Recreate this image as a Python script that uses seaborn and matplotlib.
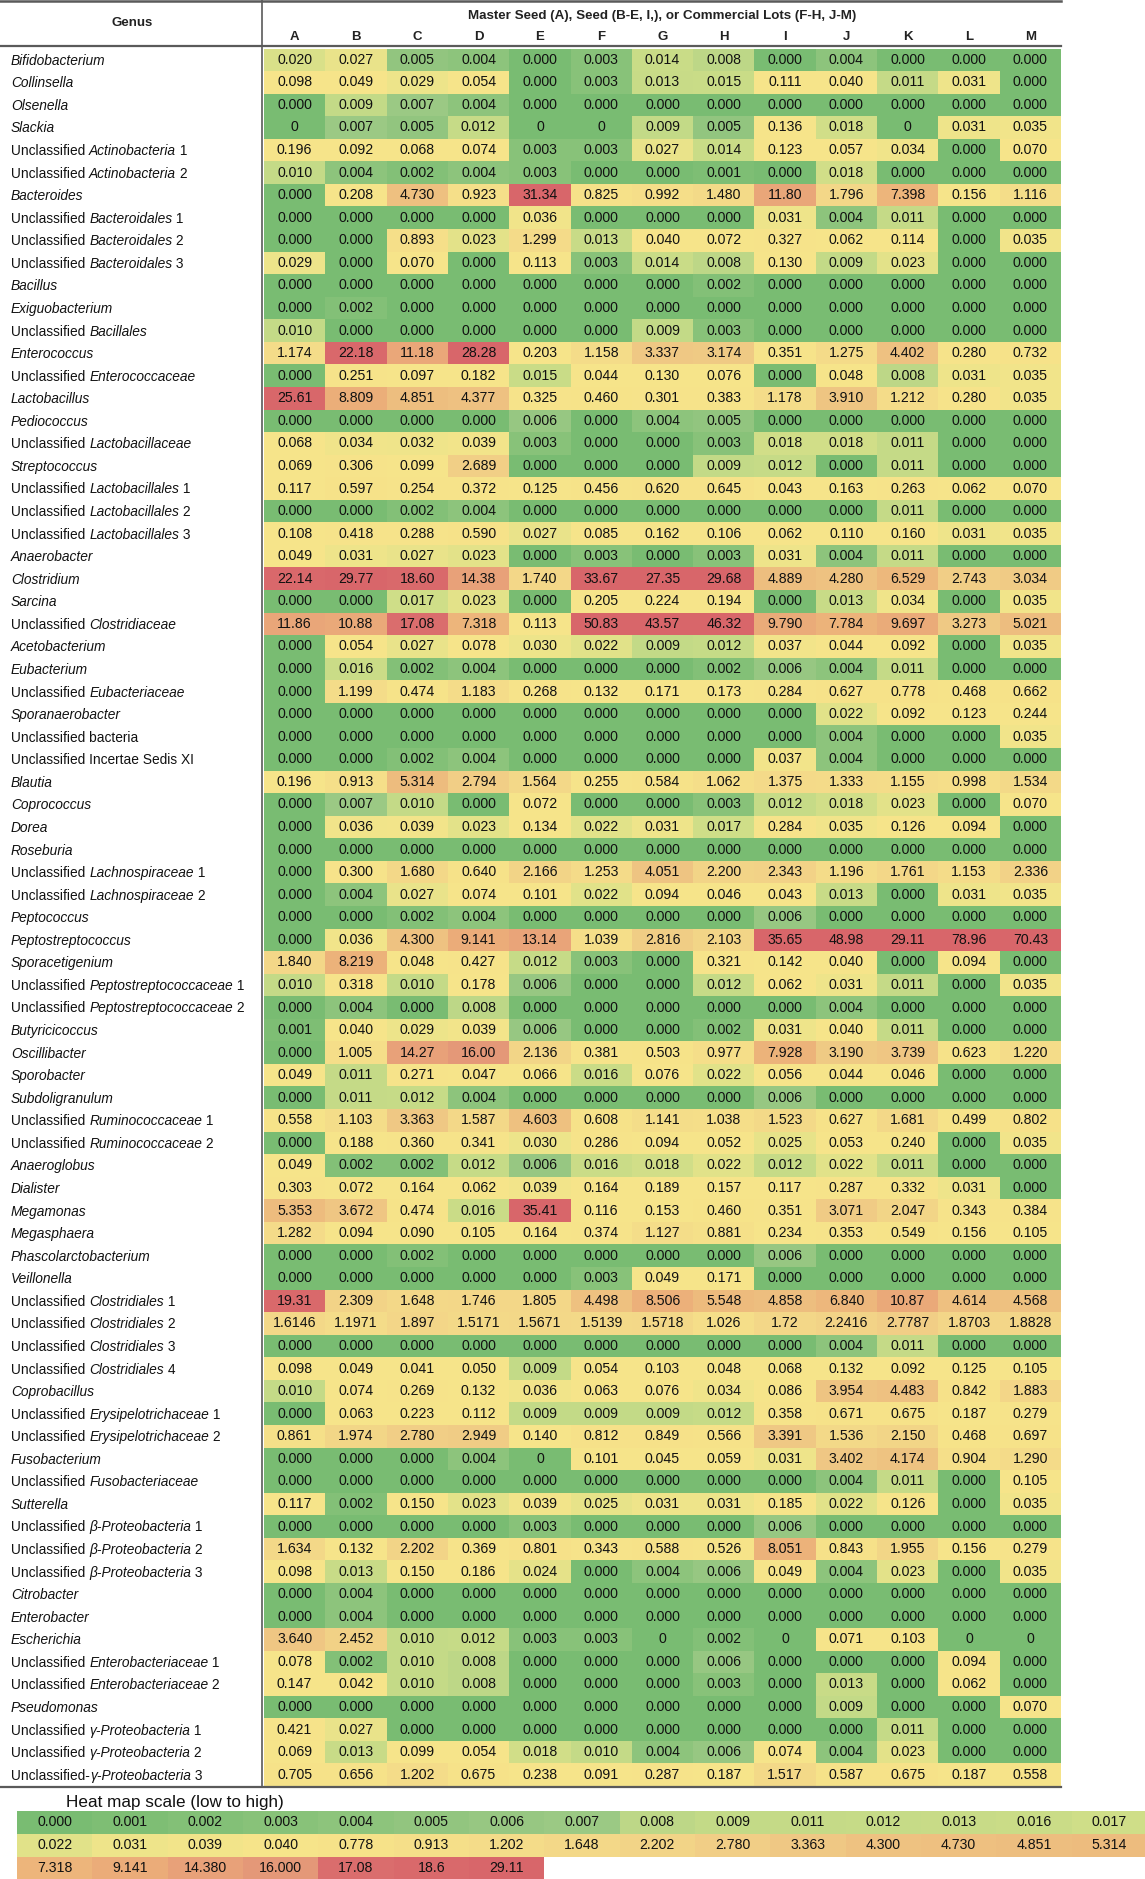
import numpy as np
import pandas as pd
import matplotlib
matplotlib.use("Agg")
import matplotlib.pyplot as plt
import matplotlib.transforms as mtransforms
from matplotlib.colors import LinearSegmentedColormap
from matplotlib.lines import Line2D
import seaborn as sns

# ---------------- data ----------------
lots = ["A", "B", "C", "D", "E", "F", "G", "H", "I", "J", "K", "L", "M"]

genera = [
    "*Bifidobacterium*", "*Collinsella*", "*Olsenella*", "*Slackia*",
    "Unclassified *Actinobacteria* 1", "Unclassified *Actinobacteria* 2",
    "*Bacteroides*", "Unclassified *Bacteroidales* 1", "Unclassified *Bacteroidales* 2",
    "Unclassified *Bacteroidales* 3", "*Bacillus*", "*Exiguobacterium*",
    "Unclassified *Bacillales*", "*Enterococcus*", "Unclassified *Enterococcaceae*",
    "*Lactobacillus*", "*Pediococcus*", "Unclassified *Lactobacillaceae*", "*Streptococcus*",
    "Unclassified *Lactobacillales* 1", "Unclassified *Lactobacillales* 2",
    "Unclassified *Lactobacillales* 3", "*Anaerobacter*", "*Clostridium*", "*Sarcina*",
    "Unclassified *Clostridiaceae*", "*Acetobacterium*", "*Eubacterium*",
    "Unclassified *Eubacteriaceae*", "*Sporanaerobacter*", "Unclassified bacteria",
    "Unclassified Incertae Sedis XI", "*Blautia*", "*Coprococcus*", "*Dorea*", "*Roseburia*",
    "Unclassified *Lachnospiraceae* 1", "Unclassified *Lachnospiraceae* 2", "*Peptococcus*",
    "*Peptostreptococcus*", "*Sporacetigenium*", "Unclassified *Peptostreptococcaceae* 1",
    "Unclassified *Peptostreptococcaceae* 2", "*Butyricicoccus*", "*Oscillibacter*",
    "*Sporobacter*", "*Subdoligranulum*", "Unclassified *Ruminococcaceae* 1",
    "Unclassified *Ruminococcaceae* 2", "*Anaeroglobus*", "*Dialister*", "*Megamonas*",
    "*Megasphaera*", "*Phascolarctobacterium*", "*Veillonella*",
    "Unclassified *Clostridiales* 1", "Unclassified *Clostridiales* 2",
    "Unclassified *Clostridiales* 3", "Unclassified *Clostridiales* 4", "*Coprobacillus*",
    "Unclassified *Erysipelotrichaceae* 1", "Unclassified *Erysipelotrichaceae* 2",
    "*Fusobacterium*", "Unclassified *Fusobacteriaceae*", "*Sutterella*",
    "Unclassified *β-Proteobacteria* 1", "Unclassified *β-Proteobacteria* 2",
    "Unclassified *β-Proteobacteria* 3", "*Citrobacter*", "*Enterobacter*", "*Escherichia*",
    "Unclassified *Enterobacteriaceae* 1", "Unclassified *Enterobacteriaceae* 2",
    "*Pseudomonas*", "Unclassified *γ-Proteobacteria* 1", "Unclassified *γ-Proteobacteria* 2",
    "Unclassified-*γ-Proteobacteria* 3",
]

col_A = """0.020 0.098 0.000 0 0.196 0.010 0.000 0.000 0.000 0.029
0.000 0.000 0.010 1.174 0.000 25.61 0.000 0.068 0.069 0.117
0.000 0.108 0.049 22.14 0.000 11.86 0.000 0.000 0.000 0.000
0.000 0.000 0.196 0.000 0.000 0.000 0.000 0.000 0.000 0.000
1.840 0.010 0.000 0.001 0.000 0.049 0.000 0.558 0.000 0.049
0.303 5.353 1.282 0.000 0.000 19.31 1.6146 0.000 0.098 0.010
0.000 0.861 0.000 0.000 0.117 0.000 1.634 0.098 0.000 0.000
3.640 0.078 0.147 0.000 0.421 0.069 0.705""".split()

col_B = """0.027 0.049 0.009 0.007 0.092 0.004 0.208 0.000 0.000 0.000
0.000 0.002 0.000 22.18 0.251 8.809 0.000 0.034 0.306 0.597
0.000 0.418 0.031 29.77 0.000 10.88 0.054 0.016 1.199 0.000
0.000 0.000 0.913 0.007 0.036 0.000 0.300 0.004 0.000 0.036
8.219 0.318 0.004 0.040 1.005 0.011 0.011 1.103 0.188 0.002
0.072 3.672 0.094 0.000 0.000 2.309 1.1971 0.000 0.049 0.074
0.063 1.974 0.000 0.000 0.002 0.000 0.132 0.013 0.004 0.004
2.452 0.002 0.042 0.000 0.027 0.013 0.656""".split()

col_C = """0.005 0.029 0.007 0.005 0.068 0.002 4.730 0.000 0.893 0.070
0.000 0.000 0.000 11.18 0.097 4.851 0.000 0.032 0.099 0.254
0.002 0.288 0.027 18.60 0.017 17.08 0.027 0.002 0.474 0.000
0.000 0.002 5.314 0.010 0.039 0.000 1.680 0.027 0.002 4.300
0.048 0.010 0.000 0.029 14.27 0.271 0.012 3.363 0.360 0.002
0.164 0.474 0.090 0.002 0.000 1.648 1.897 0.000 0.041 0.269
0.223 2.780 0.000 0.000 0.150 0.000 2.202 0.150 0.000 0.000
0.010 0.010 0.010 0.000 0.000 0.099 1.202""".split()

col_D = """0.004 0.054 0.004 0.012 0.074 0.004 0.923 0.000 0.023 0.000
0.000 0.000 0.000 28.28 0.182 4.377 0.000 0.039 2.689 0.372
0.004 0.590 0.023 14.38 0.023 7.318 0.078 0.004 1.183 0.000
0.000 0.004 2.794 0.000 0.023 0.000 0.640 0.074 0.004 9.141
0.427 0.178 0.008 0.039 16.00 0.047 0.004 1.587 0.341 0.012
0.062 0.016 0.105 0.000 0.000 1.746 1.5171 0.000 0.050 0.132
0.112 2.949 0.004 0.000 0.023 0.000 0.369 0.186 0.000 0.000
0.012 0.008 0.008 0.000 0.000 0.054 0.675""".split()

col_E = """0.000 0.000 0.000 0 0.003 0.003 31.34 0.036 1.299 0.113
0.000 0.000 0.000 0.203 0.015 0.325 0.006 0.003 0.000 0.125
0.000 0.027 0.000 1.740 0.000 0.113 0.030 0.000 0.268 0.000
0.000 0.000 1.564 0.072 0.134 0.000 2.166 0.101 0.000 13.14
0.012 0.006 0.000 0.006 2.136 0.066 0.000 4.603 0.030 0.006
0.039 35.41 0.164 0.000 0.000 1.805 1.5671 0.000 0.009 0.036
0.009 0.140 0 0.000 0.039 0.003 0.801 0.024 0.000 0.000
0.003 0.000 0.000 0.000 0.000 0.018 0.238""".split()

col_F = """0.003 0.003 0.000 0 0.003 0.000 0.825 0.000 0.013 0.003
0.000 0.000 0.000 1.158 0.044 0.460 0.000 0.000 0.000 0.456
0.000 0.085 0.003 33.67 0.205 50.83 0.022 0.000 0.132 0.000
0.000 0.000 0.255 0.000 0.022 0.000 1.253 0.022 0.000 1.039
0.003 0.000 0.000 0.000 0.381 0.016 0.000 0.608 0.286 0.016
0.164 0.116 0.374 0.000 0.003 4.498 1.5139 0.000 0.054 0.063
0.009 0.812 0.101 0.000 0.025 0.000 0.343 0.000 0.000 0.000
0.003 0.000 0.000 0.000 0.000 0.010 0.091""".split()

col_G = """0.014 0.013 0.000 0.009 0.027 0.000 0.992 0.000 0.040 0.014
0.000 0.000 0.009 3.337 0.130 0.301 0.004 0.000 0.000 0.620
0.000 0.162 0.000 27.35 0.224 43.57 0.009 0.000 0.171 0.000
0.000 0.000 0.584 0.000 0.031 0.000 4.051 0.094 0.000 2.816
0.000 0.000 0.000 0.000 0.503 0.076 0.000 1.141 0.094 0.018
0.189 0.153 1.127 0.000 0.049 8.506 1.5718 0.000 0.103 0.076
0.009 0.849 0.045 0.000 0.031 0.000 0.588 0.004 0.000 0.000
0 0.000 0.000 0.000 0.000 0.004 0.287""".split()

col_H = """0.008 0.015 0.000 0.005 0.014 0.001 1.480 0.000 0.072 0.008
0.002 0.000 0.003 3.174 0.076 0.383 0.005 0.003 0.009 0.645
0.000 0.106 0.003 29.68 0.194 46.32 0.012 0.002 0.173 0.000
0.000 0.000 1.062 0.003 0.017 0.000 2.200 0.046 0.000 2.103
0.321 0.012 0.000 0.002 0.977 0.022 0.000 1.038 0.052 0.022
0.157 0.460 0.881 0.000 0.171 5.548 1.026 0.000 0.048 0.034
0.012 0.566 0.059 0.000 0.031 0.000 0.526 0.006 0.000 0.000
0.002 0.006 0.003 0.000 0.000 0.006 0.187""".split()

col_I = """0.000 0.111 0.000 0.136 0.123 0.000 11.80 0.031 0.327 0.130
0.000 0.000 0.000 0.351 0.000 1.178 0.000 0.018 0.012 0.043
0.000 0.062 0.031 4.889 0.000 9.790 0.037 0.006 0.284 0.000
0.000 0.037 1.375 0.012 0.284 0.000 2.343 0.043 0.006 35.65
0.142 0.062 0.000 0.031 7.928 0.056 0.006 1.523 0.025 0.012
0.117 0.351 0.234 0.006 0.000 4.858 1.72 0.000 0.068 0.086
0.358 3.391 0.031 0.000 0.185 0.006 8.051 0.049 0.000 0.000
0 0.000 0.000 0.000 0.000 0.074 1.517""".split()

col_J = """0.004 0.040 0.000 0.018 0.057 0.018 1.796 0.004 0.062 0.009
0.000 0.000 0.000 1.275 0.048 3.910 0.000 0.018 0.000 0.163
0.000 0.110 0.004 4.280 0.013 7.784 0.044 0.004 0.627 0.022
0.004 0.004 1.333 0.018 0.035 0.000 1.196 0.013 0.000 48.98
0.040 0.031 0.004 0.040 3.190 0.044 0.000 0.627 0.053 0.022
0.287 3.071 0.353 0.000 0.000 6.840 2.2416 0.004 0.132 3.954
0.671 1.536 3.402 0.004 0.022 0.000 0.843 0.004 0.000 0.000
0.071 0.000 0.013 0.009 0.000 0.004 0.587""".split()

col_K = """0.000 0.011 0.000 0 0.034 0.000 7.398 0.011 0.114 0.023
0.000 0.000 0.000 4.402 0.008 1.212 0.000 0.011 0.011 0.263
0.011 0.160 0.011 6.529 0.034 9.697 0.092 0.011 0.778 0.092
0.000 0.000 1.155 0.023 0.126 0.000 1.761 0.000 0.000 29.11
0.000 0.011 0.000 0.011 3.739 0.046 0.000 1.681 0.240 0.011
0.332 2.047 0.549 0.000 0.000 10.87 2.7787 0.011 0.092 4.483
0.675 2.150 4.174 0.011 0.126 0.000 1.955 0.023 0.000 0.000
0.103 0.000 0.000 0.000 0.011 0.023 0.675""".split()

col_L = """0.000 0.031 0.000 0.031 0.000 0.000 0.156 0.000 0.000 0.000
0.000 0.000 0.000 0.280 0.031 0.280 0.000 0.000 0.000 0.062
0.000 0.031 0.000 2.743 0.000 3.273 0.000 0.000 0.468 0.123
0.000 0.000 0.998 0.000 0.094 0.000 1.153 0.031 0.000 78.96
0.094 0.000 0.000 0.000 0.623 0.000 0.000 0.499 0.000 0.000
0.031 0.343 0.156 0.000 0.000 4.614 1.8703 0.000 0.125 0.842
0.187 0.468 0.904 0.000 0.000 0.000 0.156 0.000 0.000 0.000
0 0.094 0.062 0.000 0.000 0.000 0.187""".split()

col_M = """0.000 0.000 0.000 0.035 0.070 0.000 1.116 0.000 0.035 0.000
0.000 0.000 0.000 0.732 0.035 0.035 0.000 0.000 0.000 0.070
0.000 0.035 0.000 3.034 0.035 5.021 0.035 0.000 0.662 0.244
0.035 0.000 1.534 0.070 0.000 0.000 2.336 0.035 0.000 70.43
0.000 0.035 0.000 0.000 1.220 0.000 0.000 0.802 0.035 0.000
0.000 0.384 0.105 0.000 0.000 4.568 1.8828 0.000 0.105 1.883
0.279 0.697 1.290 0.105 0.035 0.000 0.279 0.035 0.000 0.000
0 0.000 0.000 0.070 0.000 0.000 0.558""".split()

# heat-map scale (legend) values, low to high
scale_labels = ["0.000", "0.001", "0.002", "0.003", "0.004", "0.005", "0.006", "0.007",
                "0.008", "0.009", "0.011", "0.012", "0.013", "0.016", "0.017",
                "0.022", "0.031", "0.039", "0.040", "0.778", "0.913", "1.202", "1.648",
                "2.202", "2.780", "3.363", "4.300", "4.730", "4.851", "5.314",
                "7.318", "9.141", "14.380", "16.000", "17.08", "18.6", "29.11"]

# ---------------- build tables ----------------
columns = [col_A, col_B, col_C, col_D, col_E, col_F, col_G, col_H, col_I, col_J, col_K, col_L, col_M]
for c in columns:
    assert len(c) == len(genera), len(c)
plain_names = [g.replace("*", "") for g in genera]
text_df = pd.DataFrame({l: c for l, c in zip(lots, columns)}, index=plain_names)
value_df = text_df.astype(float)

scale_vals = np.array([float(s) for s in scale_labels])
n_scale = len(scale_vals)
scale_pos = np.arange(n_scale) / (n_scale - 1)
level_df = value_df.apply(lambda col: np.interp(col.values, scale_vals, scale_pos))

# colour scale: green -> yellow -> red following the legend steps
nodes = [(0, "#79BC72"), (3, "#88C279"), (6, "#97C782"), (7, "#9BC984"), (8, "#C1D987"),
         (13, "#CADC87"), (14, "#CFDE88"), (15, "#E2E289"), (16, "#EFE48A"),
         (18, "#F6E48A"), (19, "#F6E289"), (21, "#F4DC89"), (23, "#F2D487"),
         (25, "#EFC884"), (26, "#EEC281"), (29, "#EDBC7E"), (30, "#EDB67B"),
         (31, "#EBAD79"), (32, "#E8A179"), (33, "#E49A78"), (34, "#DA6D6D"), (36, "#D8666A")]
heat_cmap = LinearSegmentedColormap.from_list(
    "heat", [(i / (n_scale - 1), c) for i, c in nodes])

# ---------------- figure ----------------
FONT = "Liberation Sans"
plt.rcParams["font.family"] = [FONT, "DejaVu Sans"]
W, H = 1145, 1879
fig = plt.figure(figsize=(W / 100, H / 100), dpi=100)
fig.patch.set_facecolor("white")


def fx(px):
    return px / W


def fy(py):
    return 1 - py / H


tab_left, tab_right = 264, 1061
tab_top, tab_bot = 48.5, 1786
ax = fig.add_axes([fx(tab_left), fy(tab_bot), (tab_right - tab_left) / W, (tab_bot - tab_top) / H])
sns.heatmap(level_df, ax=ax, cmap=heat_cmap, vmin=0, vmax=1, cbar=False,
            annot=text_df.values, fmt="", linewidths=0,
            annot_kws=dict(fontsize=10.2, color="#111111", family=FONT),
            xticklabels=False, yticklabels=False)
ax.set_xlabel("")
ax.set_ylabel("")
for s in ax.spines.values():
    s.set_visible(False)

# genus labels with partial italics
FS = 9.9
renderer = fig.canvas.get_renderer()


def advance(s, style):
    t1 = fig.text(0, 0, s + "I", fontsize=FS, style=style, family=FONT)
    t2 = fig.text(0, 0, "I", fontsize=FS, style=style, family=FONT)
    w = t1.get_window_extent(renderer).width - t2.get_window_extent(renderer).width
    t1.remove()
    t2.remove()
    return w


trans = mtransforms.blended_transform_factory(fig.transFigure, ax.transData)
for i, g in enumerate(genera):
    pieces = g.split("*")
    x = 11.0
    for k, p in enumerate(pieces):
        if not p:
            continue
        style = "italic" if k % 2 == 1 else "normal"
        ax.text(fx(x), i + 0.72, p, transform=trans, fontsize=FS, style=style,
                family=FONT, ha="left", va="baseline", color="#111111", clip_on=False)
        x += advance(p, style)

# header
fig.text(fx(132), fy(23), "Genus", ha="center", va="center", fontsize=9.5,
         fontweight="bold", family=FONT, color="#222222")
fig.text(fx((tab_left + tab_right) / 2), fy(16),
         "Master Seed (A), Seed (B-E, I,), or Commercial Lots (F-H, J-M)",
         ha="center", va="center", fontsize=9.6, fontweight="bold", family=FONT, color="#222222")
colw = (tab_right - tab_left) / len(lots)
for j, l in enumerate(lots):
    fig.text(fx(tab_left + (j + 0.5) * colw), fy(37.5), l, ha="center", va="center",
             fontsize=9.5, fontweight="bold", family=FONT, color="#222222")

# rules
line_c = "#5a5a5a"
fig.add_artist(Line2D([fx(0), fx(tab_right)], [fy(1.2), fy(1.2)], color=line_c, lw=1.8))
fig.add_artist(Line2D([fx(0), fx(tab_right)], [fy(45.5), fy(45.5)], color=line_c, lw=1.6))
fig.add_artist(Line2D([fx(0), fx(tab_right)], [fy(1787), fy(1787)], color=line_c, lw=1.6))
fig.add_artist(Line2D([fx(261.5), fx(261.5)], [fy(0), fy(1787)], color=line_c, lw=1.2))

# legend
fig.text(fx(66), fy(1803), "Heat map scale (low to high)", ha="left", va="center",
         fontsize=12.3, family=FONT, color="#111111")
n_per_row = 15
n_rows = int(np.ceil(n_scale / n_per_row))
leg_levels = np.full((n_rows, n_per_row), np.nan)
leg_text = np.full((n_rows, n_per_row), "", dtype=object)
for k in range(n_scale):
    r, c = divmod(k, n_per_row)
    leg_levels[r, c] = scale_pos[k]
    leg_text[r, c] = scale_labels[k]
cellw = 75.33
leg_top, leg_bot = 1811, 1879.5
ax2 = fig.add_axes([fx(17), fy(leg_bot), n_per_row * cellw / W, (leg_bot - leg_top) / H])
sns.heatmap(pd.DataFrame(leg_levels), ax=ax2, cmap=heat_cmap, vmin=0, vmax=1, cbar=False,
            mask=np.isnan(leg_levels), annot=leg_text, fmt="", linewidths=0,
            annot_kws=dict(fontsize=10.2, color="#111111", family=FONT),
            xticklabels=False, yticklabels=False)
ax2.set_xlabel("")
ax2.set_ylabel("")
ax2.set_facecolor("white")

fig.savefig("out.png", dpi=100, facecolor="white")
